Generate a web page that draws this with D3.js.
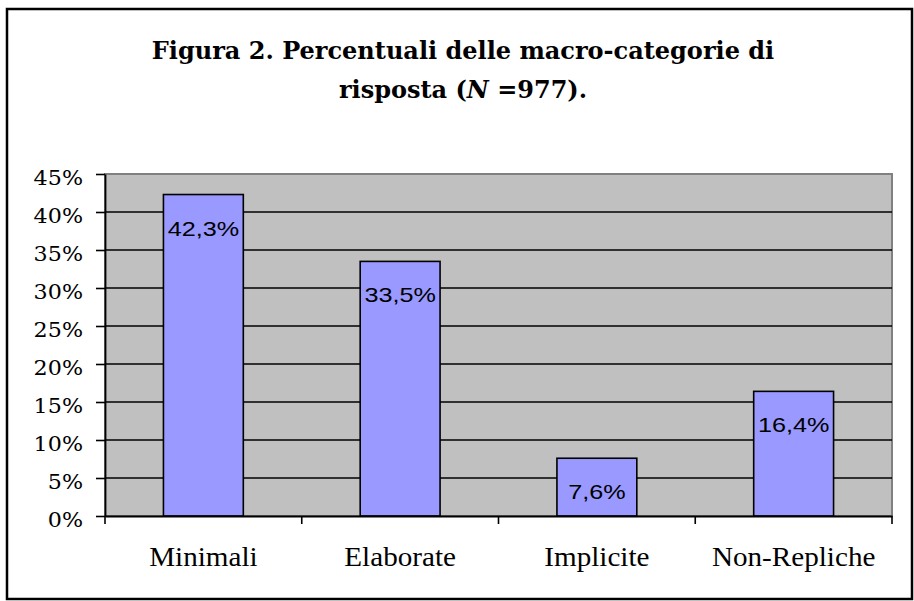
<!DOCTYPE html>
<html>
<head>
<meta charset="utf-8">
<script src="https://cdn.jsdelivr.net/npm/d3@7"></script>
<style>
  html, body { margin: 0; padding: 0; background: #fff; }
  svg { display: block; }
</style>
</head>
<body>
<svg id="chart" width="914" height="601"></svg>
<script>
// ---- data ----
const categories = ["Minimali", "Elaborate", "Implicite", "Non-Repliche"];
const values = [42.3, 33.5, 7.6, 16.4];
const valueLabels = ["42,3%", "33,5%", "7,6%", "16,4%"];
const yTickValues = [0, 5, 10, 15, 20, 25, 30, 35, 40, 45];
const yTickLabels = ["0%", "5%", "10%", "15%", "20%", "25%", "30%", "35%", "40%", "45%"];
const titleLine1 = "Figura 2. Percentuali delle macro-categorie di";
const titleLine2 = ["risposta (", "N", " =977)."];

// ---- layout ----
const svg = d3.select("#chart");
const plot = { left: 105, right: 892, top: 174, bottom: 516 };

const x = d3.scaleBand().domain(categories).range([plot.left, plot.right])
  .paddingInner(0.594).paddingOuter(0.297);
const xTicksScale = d3.scaleBand().domain(categories).range([plot.left, plot.right]).padding(0);
const y = d3.scaleLinear().domain([0, 45]).range([plot.bottom, plot.top]);

function stretch(sel, k) {
  sel.each(function () {
    const w = this.getComputedTextLength();
    d3.select(this).attr("textLength", w * k).attr("lengthAdjust", "spacingAndGlyphs");
  });
}

// outer frame
svg.append("rect")
  .attr("x", 7).attr("y", 9).attr("width", 905).attr("height", 590)
  .attr("fill", "#fff").attr("stroke", "#000").attr("stroke-width", 2.5);

// title
const tg = svg.append("g").attr("font-family", "'DejaVu Serif', serif")
  .attr("font-weight", "bold").attr("font-size", 24).attr("text-anchor", "middle");
const t1 = tg.append("text").attr("x", 463).attr("y", 59).text(titleLine1);
const t2 = tg.append("text").attr("x", 463).attr("y", 98);
titleLine2.forEach((s, i) => {
  t2.append("tspan").attr("font-style", i === 1 ? "italic" : null).text(s);
});

// plot background
svg.append("rect")
  .attr("x", plot.left).attr("y", plot.top)
  .attr("width", plot.right - plot.left).attr("height", plot.bottom - plot.top)
  .attr("fill", "#c0c0c0").attr("stroke", "#808080").attr("stroke-width", 2);

// gridlines
svg.append("g").selectAll("line").data(yTickValues.filter(v => v > 0 && v < 45)).join("line")
  .attr("x1", plot.left).attr("x2", plot.right)
  .attr("y1", d => y(d)).attr("y2", d => y(d))
  .attr("stroke", "#000").attr("stroke-width", 1.6);

// bars
svg.append("g").selectAll("rect").data(values).join("rect")
  .attr("x", (d, i) => x(categories[i]))
  .attr("y", d => y(d))
  .attr("width", x.bandwidth())
  .attr("height", d => y(0) - y(d))
  .attr("fill", "#9999ff").attr("stroke", "#000").attr("stroke-width", 1.6);

// value labels
const vl = svg.append("g").attr("font-family", "'Liberation Sans', Arial, sans-serif")
  .attr("font-size", 21).attr("text-anchor", "middle").attr("fill", "#000")
  .selectAll("text").data(values).join("text")
  .attr("x", (d, i) => x(categories[i]) + x.bandwidth() / 2)
  .attr("y", d => y(d) + 41)
  .text((d, i) => valueLabels[i]);
stretch(vl, 1.2);

// y axis
const yAxis = d3.axisLeft(y).tickValues(yTickValues).tickSize(9).tickSizeOuter(0)
  .tickFormat((d, i) => yTickLabels[i]);
const yg = svg.append("g").attr("transform", `translate(${plot.left},0)`).call(yAxis);
yg.select(".domain").attr("stroke", "#000").attr("stroke-width", 1.8);
yg.selectAll(".tick line").attr("stroke", "#000").attr("stroke-width", 1.6);
const ytx = yg.selectAll(".tick text")
  .attr("font-family", "'DejaVu Serif', serif").attr("font-size", 19.5).attr("fill", "#000")
  .attr("x", -22).attr("dy", null).attr("y", 10);
stretch(ytx, 1.14);

// x axis
const xAxis = d3.axisBottom(xTicksScale).tickSize(0).tickSizeOuter(0).tickFormat(d => d);
const xg = svg.append("g").attr("transform", `translate(0,${plot.bottom})`).call(xAxis);
xg.select(".domain").attr("stroke", "#000").attr("stroke-width", 1.8);
xg.selectAll(".tick line").remove();
const xtx = xg.selectAll(".tick text")
  .attr("font-family", "'Liberation Serif', 'Times New Roman', serif")
  .attr("font-size", 26.5).attr("fill", "#000").attr("dy", null).attr("y", 50);
stretch(xtx, 1.1);

// category boundary ticks
const boundaries = categories.map(c => xTicksScale(c)).concat([plot.right]);
xg.append("g").selectAll("line").data(boundaries).join("line")
  .attr("x1", d => d).attr("x2", d => d).attr("y1", 0).attr("y2", 8)
  .attr("stroke", "#000").attr("stroke-width", 1.6);
</script>
</body>
</html>
